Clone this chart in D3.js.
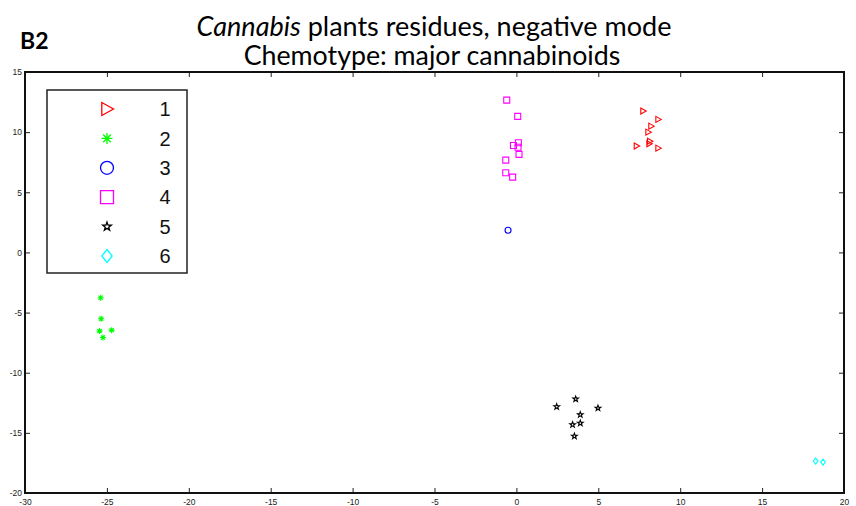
<!DOCTYPE html>
<html>
<head>
<meta charset="utf-8">
<script src="https://cdn.jsdelivr.net/npm/d3@7"></script>
<style>
  html, body { margin: 0; padding: 0; background: #fff; }
  svg { display: block; }
</style>
</head>
<body>
<svg id="chart" width="856" height="506"></svg>
<script>
// Score coordinates per chemotype group
const group1 = [[7.74, 11.75], [8.66, 11.06], [8.23, 10.5], [8.05, 10.0], [8.15, 9.25], [8.11, 9.04], [7.34, 8.84], [8.66, 8.67]];
const group2 = [[-25.38, -3.77], [-25.35, -5.51], [-25.45, -6.54], [-24.71, -6.46], [-25.24, -7.07]];
const group3 = [[-0.51, 1.85]];
const group4 = [[-0.59, 12.66], [0.08, 11.31], [0.12, 9.12], [-0.18, 8.89], [0.10, 8.75], [0.16, 8.15], [-0.65, 7.67], [-0.65, 6.63], [-0.23, 6.26]];
const group5 = [[3.62, -12.19], [2.46, -12.83], [4.98, -12.94], [3.90, -13.49], [3.90, -14.19], [3.43, -14.32], [3.54, -15.27]];
const group6 = [[18.27, -17.35], [18.72, -17.43]];

const groupNames = ["1", "2", "3", "4", "5", "6"];
const groupColors = ["#ff0000", "#00ff00", "#0000ff", "#ff00ff", "#000000", "#00ffff"];
const groupShapes = ["triangleRight", "asterisk", "circle", "square", "pentagram", "diamond"];
const groups = [group1, group2, group3, group4, group5, group6];

const xTicks = [-30, -25, -20, -15, -10, -5, 0, 5, 10, 15, 20];
const yTicks = [-20, -15, -10, -5, 0, 5, 10, 15];

const svg = d3.select("#chart");
const plotLeft = 25, plotRight = 844, plotTop = 72, plotBottom = 493;

const x = d3.scaleLinear().domain([-30, 20]).range([plotLeft, plotRight]);
const y = d3.scaleLinear().domain([-20, 15]).range([plotBottom, plotTop]);

// Marker path generators, s = nominal marker size in px
function markerPath(shape, s) {
  const p = d3.path();
  const r = s / 2;
  if (shape === "triangleRight") {
    p.moveTo(-r * 0.8, -r); p.lineTo(r, 0); p.lineTo(-r * 0.8, r); p.closePath();
  } else if (shape === "asterisk") {
    p.moveTo(0, -r); p.lineTo(0, r);
    p.moveTo(-r, 0); p.lineTo(r, 0);
    const d = r * 0.7;
    p.moveTo(-d, -d); p.lineTo(d, d);
    p.moveTo(-d, d); p.lineTo(d, -d);
  } else if (shape === "circle") {
    p.moveTo(r, 0); p.arc(0, 0, r, 0, 2 * Math.PI);
  } else if (shape === "square") {
    p.rect(-r, -r, s, s);
  } else if (shape === "diamond") {
    p.moveTo(0, -r); p.lineTo(r * 0.8, 0); p.lineTo(0, r); p.lineTo(-r * 0.8, 0); p.closePath();
  } else if (shape === "pentagram") {
    for (let i = 0; i < 10; i++) {
      const a = -Math.PI / 2 + i * Math.PI / 5;
      const rr = i % 2 === 0 ? r : r * 0.4;
      const px = rr * Math.cos(a), py = rr * Math.sin(a);
      if (i === 0) p.moveTo(px, py); else p.lineTo(px, py);
    }
    p.closePath();
  }
  return p.toString();
}

// Axes: ticks point inward on all four sides, plain hyphen minus signs
const tickLen = 5;
const axisFont = "Arial, 'Liberation Sans', sans-serif";
const plainFmt = d => String(d);

const gBottom = svg.append("g").attr("transform", `translate(0,${plotBottom})`)
  .call(d3.axisBottom(x).tickValues(xTicks).tickFormat(plainFmt).tickSizeInner(-tickLen).tickSizeOuter(0).tickPadding(4));
const gTop = svg.append("g").attr("transform", `translate(0,${plotTop})`)
  .call(d3.axisTop(x).tickValues(xTicks).tickSizeInner(-tickLen).tickSizeOuter(0).tickFormat(""));
const gLeft = svg.append("g").attr("transform", `translate(${plotLeft},0)`)
  .call(d3.axisLeft(y).tickValues(yTicks).tickFormat(plainFmt).tickSizeInner(-tickLen).tickSizeOuter(0).tickPadding(3));
const gRight = svg.append("g").attr("transform", `translate(${plotRight},0)`)
  .call(d3.axisRight(y).tickValues(yTicks).tickSizeInner(-tickLen).tickSizeOuter(0).tickFormat(""));

[gBottom, gTop, gLeft, gRight].forEach(g => {
  g.select(".domain").remove();
  g.selectAll(".tick line").attr("stroke", "#222").attr("stroke-width", 1);
  g.selectAll(".tick text").attr("font-family", axisFont).attr("font-size", 8.5).attr("fill", "#222");
});
gBottom.selectAll(".tick text").attr("dy", "0.9em");

// Frame
svg.append("rect")
  .attr("x", plotLeft).attr("y", plotTop)
  .attr("width", plotRight - plotLeft).attr("height", plotBottom - plotTop)
  .attr("fill", "none").attr("stroke", "#111").attr("stroke-width", 2);

// Scatter points
groups.forEach((pts, gi) => {
  svg.append("g").selectAll("path").data(pts).join("path")
    .attr("transform", d => `translate(${x(d[0])},${y(d[1])})`)
    .attr("d", markerPath(groupShapes[gi], 6))
    .attr("fill", "none")
    .attr("stroke", groupColors[gi])
    .attr("stroke-width", 1.1);
});

// Legend
const lgX = 47, lgY = 90, lgW = 140, lgH = 183;
svg.append("rect").attr("x", lgX).attr("y", lgY).attr("width", lgW).attr("height", lgH)
  .attr("fill", "#fff").attr("stroke", "#222").attr("stroke-width", 1.5);
const rowY = d3.scaleLinear().domain([0, 5]).range([lgY + 19, lgY + 166]);
groupNames.forEach((name, i) => {
  const size = groupShapes[i] === "pentagram" ? 9 : (groupShapes[i] === "asterisk" ? 11 : 13);
  svg.append("path")
    .attr("transform", `translate(${lgX + 60},${rowY(i)})`)
    .attr("d", markerPath(groupShapes[i], size))
    .attr("fill", "none")
    .attr("stroke", groupColors[i])
    .attr("stroke-width", 1.3);
  svg.append("text")
    .attr("x", lgX + 118).attr("y", rowY(i))
    .attr("dy", "0.36em")
    .attr("text-anchor", "middle")
    .attr("font-family", axisFont)
    .attr("font-size", 20)
    .attr("fill", "#111")
    .text(name);
});

// Titles, sized to span their intended widths
const titleFont = "Lato, 'Open Sans', sans-serif";
function fitWidth(sel, target) {
  const w = sel.node().getComputedTextLength();
  const fs = parseFloat(sel.attr("font-size"));
  sel.attr("font-size", fs * target / w);
}
const t1 = svg.append("text")
  .attr("x", 434).attr("y", 36)
  .attr("text-anchor", "middle")
  .attr("font-family", titleFont)
  .attr("font-size", 24)
  .attr("fill", "#000");
t1.append("tspan").attr("font-style", "italic").text("Cannabis");
t1.append("tspan").text(" plants residues, negative mode");
fitWidth(t1, 475);

const t2 = svg.append("text")
  .attr("x", 432).attr("y", 65)
  .attr("text-anchor", "middle")
  .attr("font-family", titleFont)
  .attr("font-size", 24)
  .attr("fill", "#000")
  .text("Chemotype: major cannabinoids");
fitWidth(t2, 377);

svg.append("text")
  .attr("x", 20).attr("y", 49)
  .attr("font-family", titleFont)
  .attr("font-size", 23)
  .attr("font-weight", "bold")
  .attr("fill", "#000")
  .text("B2");
</script>
</body>
</html>
